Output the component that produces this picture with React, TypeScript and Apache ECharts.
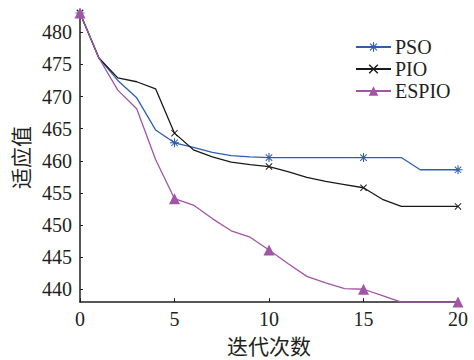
import React, { useEffect, useRef } from "react";
import * as echarts from "echarts";

const iterations = [0, 1, 2, 3, 4, 5, 6, 7, 8, 9, 10, 11, 12, 13, 14, 15, 16, 17, 18, 19, 20];
const psoValues = [483, 476, 472.5, 469.8, 464.8, 462.8, 462.1, 461.3, 460.8, 460.6, 460.5, 460.5, 460.5, 460.5, 460.5, 460.5, 460.5, 460.5, 458.6, 458.6, 458.6];
const pioValues = [483, 476, 472.9, 472.3, 471.2, 464.3, 461.7, 460.6, 459.8, 459.4, 459.1, 458.3, 457.4, 456.8, 456.3, 455.8, 454.0, 452.9, 452.9, 452.9, 452.9];
const espioValues = [483, 476, 471.0, 468.1, 460.2, 454.1, 453.1, 451.0, 449.1, 448.1, 446.1, 444.0, 442.0, 441.0, 440.1, 440.0, 439.0, 438, 438, 438, 438];
const seriesNames = ["PSO", "PIO", "ESPIO"];
const markerEvery = 5;

const ASTERISK =
  "path://M0,4.4H10V5.6H0Z M4.4,0H5.6V10H4.4Z M1,1.8L1.8,1L9,8.2L8.2,9Z M8.2,1L9,1.8L1.8,9L1,8.2Z";
const CROSS = "path://M1,1.8L1.8,1L9,8.2L8.2,9Z M8.2,1L9,1.8L1.8,9L1,8.2Z";

export default function App() {
  const ref = useRef<HTMLDivElement>(null);
  useEffect(() => {
    if (!ref.current) return;
    const chart = echarts.init(ref.current, null, { renderer: "svg" });
    const serif = "'Liberation Serif', 'Times New Roman', serif";
    const cjk = "'Noto Sans CJK SC', sans-serif";
    const makeSeries = (name: string, values: number[], color: string, symbol: string, size: number) => ({
      name,
      type: "line",
      symbol,
      symbolSize: size,
      clip: false,
      lineStyle: { color, width: 1.3 },
      itemStyle: { color },
      data: values.map((v, i) => ({
        value: [iterations[i], v],
        symbol: i % markerEvery === 0 ? symbol : "none",
      })),
    });
    chart.setOption({
      animation: false,
      grid: { left: 80, right: 16, top: 13, bottom: 49 },
      legend: {
        orient: "vertical",
        left: 350,
        top: 32,
        itemWidth: 35,
        itemHeight: 12,
        itemGap: 2,
        textStyle: { fontFamily: serif, fontSize: 20, lineHeight: 20, color: "#231f20", padding: [0, 0, 0, -1] },
        data: seriesNames,
      },
      xAxis: {
        type: "value",
        min: 0,
        max: 20,
        interval: 5,
        name: "迭代次数",
        nameLocation: "middle",
        nameGap: 30,
        nameTextStyle: { fontFamily: cjk, fontSize: 21, color: "#231f20" },
        axisLine: { lineStyle: { color: "#231f20", width: 1.5 } },
        axisTick: { inside: true, length: 4, lineStyle: { color: "#231f20" } },
        axisLabel: { fontFamily: serif, fontSize: 20, color: "#231f20", margin: 7 },
        splitLine: { show: false },
      },
      yAxis: {
        type: "value",
        min: 438,
        max: 483,
        splitNumber: 9,
        name: "适应值",
        nameLocation: "middle",
        nameRotate: 90,
        nameGap: 50,
        nameTextStyle: { fontFamily: cjk, fontSize: 21, color: "#231f20" },
        axisLine: { show: true, lineStyle: { color: "#231f20", width: 1.5 } },
        axisTick: { show: true, inside: true, length: 3, lineStyle: { color: "#231f20" } },
        axisLabel: {
          fontFamily: serif,
          fontSize: 20,
          color: "#231f20",
          margin: 8,
          showMinLabel: false,
          showMaxLabel: false,
          formatter: (v: number) => (v % 5 === 0 ? String(v) : ""),
        },
        splitLine: { show: false },
      },
      series: [
        makeSeries(seriesNames[0], psoValues, "#2d5fb0", ASTERISK, 9),
        makeSeries(seriesNames[1], pioValues, "#1a1a1a", CROSS, 7),
        makeSeries(seriesNames[2], espioValues, "#a255a6", "triangle", 11),
      ],
    });
    return () => chart.dispose();
  }, []);
  return (
    <div
      ref={ref}
      style={{ position: "fixed", left: 0, top: 0, width: 474, height: 360, background: "#fff" }}
    />
  );
}
